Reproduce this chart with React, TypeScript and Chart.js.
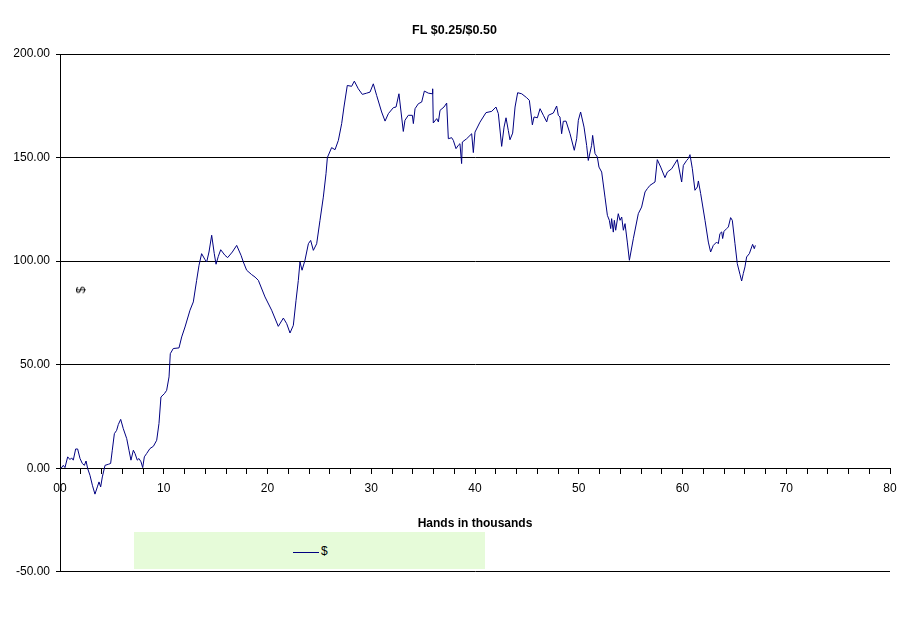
import { useEffect, useRef } from 'react'
import { Chart, registerables } from 'chart.js'

Chart.register(...registerables)

// hands played, in thousands
const hands = [
  0.1, 0.32, 0.48, 0.74, 0.96, 1.12, 1.28, 1.51, 1.7, 1.93, 2.15, 2.35, 2.51, 2.67, 2.89, 3.12, 3.37, 3.6, 3.76, 3.92,
  4.08, 4.34, 4.66, 4.88, 5.04, 5.24, 5.46, 5.62, 5.85, 6.1, 6.43, 6.65, 6.84, 7.07, 7.23, 7.45, 7.61, 7.81, 7.97, 8.13,
  8.35, 8.67, 9.0, 9.32, 9.54, 9.73, 10.06, 10.28, 10.51, 10.63, 10.92, 11.47, 11.73, 12.05, 12.53, 12.85, 13.17, 13.4, 13.65, 13.98,
  14.14, 14.36, 14.62, 14.87, 15.04, 15.26, 15.49, 15.9, 16.16, 16.61, 17.03, 17.45, 17.67, 17.99, 18.47, 18.8, 19.12, 19.76, 20.4, 21.04,
  21.53, 21.85, 22.17, 22.49, 22.75, 22.97, 23.13, 23.33, 23.61, 23.94, 24.16, 24.42, 24.74, 25.06, 25.38, 25.64, 25.77, 26.18, 26.51, 26.83,
  27.15, 27.37, 27.69, 28.11, 28.37, 28.75, 29.14, 29.56, 29.88, 30.2, 30.52, 31.0, 31.33, 31.65, 32.13, 32.39, 32.67, 33.09, 33.25, 33.57,
  33.96, 34.06, 34.22, 34.54, 34.86, 35.12, 35.5, 35.89, 35.92, 35.98, 36.31, 36.47, 36.63, 37.01, 37.27, 37.43, 37.75, 37.91, 38.17, 38.39,
  38.55, 38.71, 38.78, 39.2, 39.68, 39.84, 40.0, 40.48, 41.06, 41.61, 42.02, 42.25, 42.57, 42.8, 42.99, 43.21, 43.37, 43.63, 43.86, 44.11,
  44.5, 44.98, 45.24, 45.53, 45.69, 46.01, 46.27, 46.59, 46.91, 47.07, 47.55, 47.87, 48.03, 48.19, 48.35, 48.51, 48.77, 49.16, 49.57, 49.8,
  49.96, 50.18, 50.51, 50.76, 50.92, 51.24, 51.34, 51.57, 51.79, 51.95, 52.21, 52.53, 52.76, 52.95, 53.08, 53.17, 53.33, 53.43, 53.56, 53.81,
  53.98, 54.14, 54.3, 54.46, 54.68, 54.88, 55.26, 55.74, 56.06, 56.39, 56.61, 56.87, 57.35, 57.57, 57.9, 58.31, 58.54, 58.96, 59.5, 59.92,
  60.08, 60.4, 60.56, 60.72, 60.95, 61.2, 61.43, 61.53, 61.75, 62.17, 62.49, 62.71, 62.97, 63.29, 63.45, 63.61, 63.78, 63.87, 64.0, 64.26,
  64.42, 64.64, 64.8, 65.06, 65.28, 65.54, 65.7, 65.86, 66.02, 66.18, 66.44, 66.76, 66.92, 67.02,
]

// cumulative result in dollars
const dollars = [
  0, 1.4, 0.3, 5.5, 4.2, 5.0, 3.9, 9.3, 9.3, 4.7, 2.3, 1.4, 3.5, -0.2, -3.4, -8.2, -12.5, -9.0, -6.6, -9.0,
  -4.2, 1.4, 1.9, 2.3, 8.7, 16.7, 18.3, 21.1, 23.6, 19.1, 14.3, 8.7, 3.9, 8.7, 7.1, 3.9, 4.7, 3.1, 0.3, 5.5,
  7.1, 9.5, 10.6, 13.5, 21.6, 34.4, 36.0, 37.6, 44.1, 55.3, 57.8, 58.1, 63.4, 68.2, 76.3, 80.3, 90.7, 98.0, 103.6, 100.7,
  99.6, 104.4, 112.5, 103.6, 98.5, 102.3, 105.5, 102.8, 101.7, 104.4, 107.6, 102.8, 99.6, 95.6, 93.5, 92.3, 90.7, 82.7, 76.3, 68.5,
  72.5, 69.8, 65.3, 69.0, 81.1, 90.7, 99.6, 95.6, 100.4, 108.4, 110.0, 105.2, 108.4, 119.7, 130.9, 142.2, 150.0, 154.8, 153.8, 158.3,
  166.4, 174.4, 184.8, 184.4, 186.9, 183.2, 180.5, 181.1, 181.6, 185.6, 180.0, 172.0, 167.6, 171.2, 174.1, 174.4, 180.8, 162.6, 168.0, 170.4,
  170.4, 166.4, 173.6, 176.0, 176.8, 182.1, 181.1, 180.8, 183.2, 166.7, 168.8, 167.2, 172.8, 174.4, 176.3, 159.1, 159.6, 158.3, 154.3, 155.9,
  156.7, 147.1, 157.5, 159.1, 161.5, 152.4, 162.3, 167.1, 171.7, 172.3, 174.4, 171.2, 155.4, 164.7, 169.2, 163.1, 158.6, 161.8, 174.4, 181.3,
  180.8, 178.9, 177.6, 165.8, 169.6, 169.2, 173.6, 170.4, 167.2, 170.4, 171.5, 174.9, 170.4, 169.6, 161.5, 167.5, 167.6, 161.5, 153.5, 159.1,
  168.0, 172.0, 164.7, 155.9, 148.6, 155.9, 160.7, 151.9, 150.3, 145.4, 143.0, 130.9, 122.1, 119.7, 115.7, 120.5, 114.0, 119.7, 114.9, 122.9,
  119.7, 121.3, 114.9, 118.1, 109.2, 100.4, 110.8, 122.9, 126.1, 133.4, 135.0, 136.6, 138.2, 149.0, 145.4, 140.3, 143.0, 144.6, 149.0, 138.2,
  146.2, 148.6, 149.5, 151.4, 144.6, 134.2, 135.8, 138.7, 132.6, 119.7, 109.2, 104.4, 107.6, 109.2, 108.4, 113.3, 114.1, 110.9, 114.4, 115.7,
  116.5, 121.0, 119.7, 108.4, 98.8, 93.6, 90.4, 94.0, 97.2, 102.0, 103.6, 108.1, 106.0, 107.6,
]

const chartTitle = 'FL $0.25/$0.50'
const xTitle = 'Hands in thousands'
const seriesName = '$'

const FONT = '"Liberation Sans", Arial, sans-serif'
const LINE_COLOR = '#000080'

export default function App() {
  const canvasRef = useRef<HTMLCanvasElement>(null)

  useEffect(() => {
    if (!canvasRef.current) return

    const config: any = {
      type: 'line',
      data: {
        datasets: [{
          label: seriesName,
          data: hands.map((h, i) => ({ x: h, y: dollars[i] })),
          borderColor: LINE_COLOR,
          borderWidth: 1,
          pointRadius: 0,
          tension: 0,
          fill: false,
        }]
      },
      options: {
        animation: false,
        responsive: true,
        maintainAspectRatio: false,
        layout: { padding: { left: 0, right: 0, top: 0, bottom: 5.8 } },
        plugins: {
          legend: { display: false },
          tooltip: { enabled: false },
          title: {
            display: true,
            text: chartTitle,
            color: '#000',
            font: { family: FONT, size: 12.5, weight: 'bold' },
            padding: { top: 23, bottom: 16 }
          }
        },
        scales: {
          x: {
            type: 'linear',
            min: 0,
            max: 80,
            position: { y: 0 },
            // keep the plot ending at 890px, leave the title centred on the page
            afterFit: (scale: any) => { scale.paddingRight = 19 },
            grid: { display: true, drawOnChartArea: false, drawTicks: true, tickLength: 5, color: '#000' },
            border: { display: true, color: '#000', width: 1 },
            ticks: {
              stepSize: 2,
              autoSkip: false,
              maxRotation: 0,
              padding: 8,
              color: '#000',
              font: { family: FONT, size: 12 },
              callback: (v: number) => (v % 10 === 0 ? (v === 0 ? '00' : String(v)) : '')
            },
            title: {
              display: true,
              text: xTitle,
              color: '#000',
              font: { family: FONT, size: 12, weight: 'bold' },
              padding: { top: 13, bottom: 0 }
            }
          },
          y: {
            min: -50,
            max: 200,
            afterFit: (scale: any) => { scale.width = 60 },
            grid: { color: '#000', lineWidth: 1, drawTicks: true, tickLength: 4 },
            border: { display: true, color: '#000', width: 1 },
            ticks: {
              stepSize: 50,
              padding: 6,
              color: '#000',
              font: { family: FONT, size: 12 },
              callback: (v: number) => v.toFixed(2)
            }
          }
        }
      }
    }

    const chart = new Chart(canvasRef.current, config)
    return () => chart.destroy()
  }, [])

  return (
    <div style={{ position: 'fixed', left: 0, top: 0, width: 909, height: 622, overflow: 'hidden', background: '#fff', fontFamily: FONT }}>
      <div style={{ position: 'absolute', left: 0, top: 0, width: 909, height: 585 }}>
        <canvas ref={canvasRef} />
      </div>
      <span style={{
        position: 'absolute', left: 81, top: 289.5, fontSize: 12, lineHeight: 1, color: '#000',
        transform: 'translate(-50%, -50%) rotate(-90deg)'
      }}>{seriesName}</span>
      <div style={{ position: 'absolute', left: 134, top: 532, width: 351, height: 37, background: '#e6fbd9' }}>
        <div style={{ position: 'absolute', left: 159, top: 19.5, width: 26, height: 1, background: LINE_COLOR }} />
        <span style={{ position: 'absolute', left: 187, top: 11, fontSize: 12, lineHeight: '16px', color: '#000' }}>{seriesName}</span>
      </div>
    </div>
  )
}
